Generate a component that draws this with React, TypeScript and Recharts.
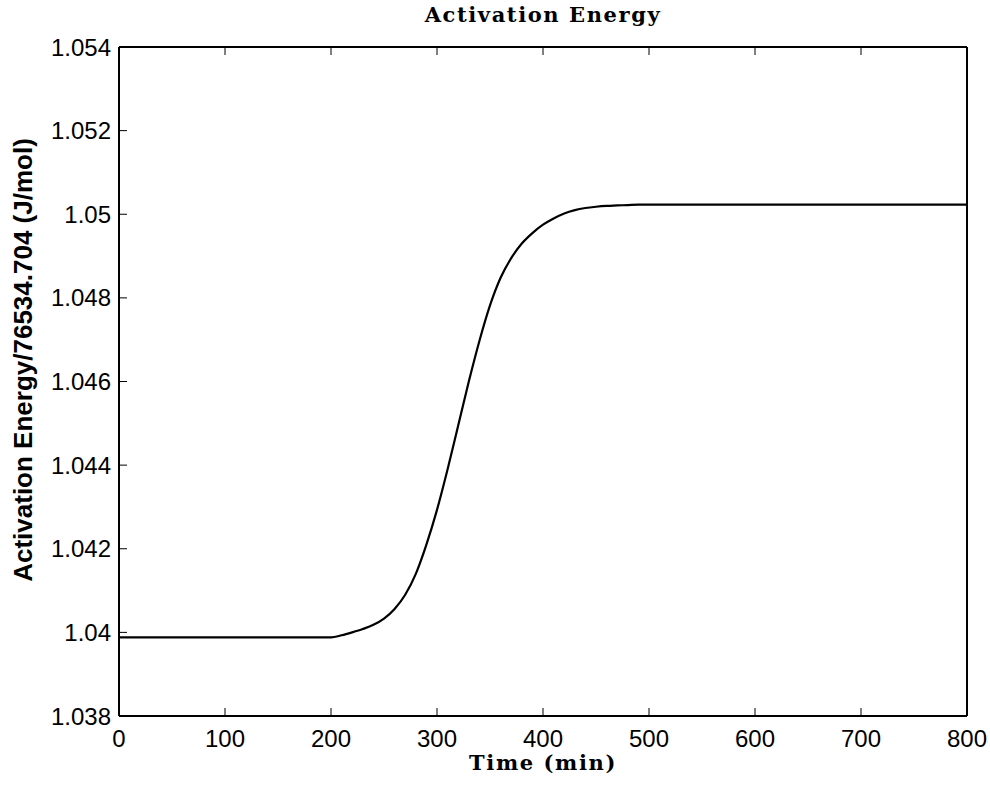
import { Label, Line, LineChart, XAxis, YAxis } from 'recharts';

// time (min)
const times = [
	0, 50, 100, 150, 200, 210, 220, 230, 240, 250, 260, 270, 280, 290, 300, 310,
	320, 330, 340, 350, 360, 370, 380, 390, 400, 410, 420, 430, 440, 450, 460,
	470, 480, 490, 500, 550, 600, 650, 700, 750, 800,
];

// activation energy / 76534.704 (J/mol)
const energy = [
	1.03988, 1.03988, 1.03988, 1.03988, 1.03988, 1.03993, 1.04, 1.04008, 1.04018,
	1.04033, 1.04056, 1.0409, 1.0414, 1.0421, 1.04293, 1.0439, 1.04495, 1.046,
	1.04697, 1.04782, 1.04848, 1.04895, 1.0493, 1.04955, 1.04975, 1.0499, 1.05002,
	1.0501, 1.05015, 1.05018, 1.0502, 1.05021, 1.05022, 1.05023, 1.05023,
	1.05023, 1.05023, 1.05023, 1.05023, 1.05023, 1.05023,
];

const xTicks = [0, 100, 200, 300, 400, 500, 600, 700, 800];
const yTicks = [1.038, 1.04, 1.042, 1.044, 1.046, 1.048, 1.05, 1.052, 1.054];

const data = times.map((t, i) => ({ time: t, energy: energy[i] }));

const TICK_LEN = 8;
const sansFont = 'Liberation Sans, Arial, sans-serif';
// the original uses a wide latex bold serif, so spread DejaVu a little
const serifBold = { fontFamily: 'DejaVu Serif, serif', fontWeight: 700, fill: '#000', letterSpacing: 1.6 };

// matlab-ish number labels: 1.04 not 1.040
const fmtY = (v: number) => String(Number(v.toFixed(3)));

// ticks point into the plot box, like the original figure
const BottomTick = ({ x, y, payload, margin }: any) => (
	<g>
		<line x1={x} x2={x} y1={y - margin} y2={y - margin - TICK_LEN} stroke='#000' strokeWidth={1} />
		<text x={x} y={y} dy='0.71em' textAnchor='middle' fontFamily={sansFont} fontSize={24} fill='#000'>
			{payload.value}
		</text>
	</g>
);

const LeftTick = ({ x, y, payload, margin }: any) => (
	<g>
		<line x1={x + margin} x2={x + margin + TICK_LEN} y1={y} y2={y} stroke='#000' strokeWidth={1} />
		<text x={x} y={y} dy='0.355em' textAnchor='end' fontFamily={sansFont} fontSize={24} fill='#000'>
			{fmtY(payload.value)}
		</text>
	</g>
);

const TopTick = ({ x, y }: any) => (
	<line x1={x} x2={x} y1={y} y2={y + TICK_LEN} stroke='#000' strokeWidth={1} />
);

const RightTick = ({ x, y }: any) => (
	<line x1={x} x2={x - TICK_LEN} y1={y} y2={y} stroke='#000' strokeWidth={1} />
);

export default function App() {
	return (
		<div style={{ position: 'absolute', left: 0, top: 0, background: '#fff' }}>
			<LineChart
				width={990}
				height={785}
				data={data}
				margin={{ top: 46, right: 22, left: 0, bottom: 0 }}
			>
				<XAxis
					xAxisId='bottom'
					dataKey='time'
					type='number'
					domain={[0, 800]}
					ticks={xTicks}
					height={69}
					tickSize={0}
					tickMargin={14}
					tickLine={false}
					tick={(p: any) => <BottomTick {...p} margin={14} />}
					axisLine={{ stroke: '#000', strokeWidth: 2 }}
				>
					<Label
						value='Time (min)'
						position='insideBottom'
						offset={15}
						style={{ ...serifBold, fontSize: 21 }}
					/>
				</XAxis>
				<XAxis
					xAxisId='top'
					orientation='top'
					dataKey='time'
					type='number'
					domain={[0, 800]}
					ticks={xTicks}
					height={1}
					tickSize={0}
					tickMargin={0}
					tickLine={false}
					tick={TopTick}
					axisLine={{ stroke: '#000', strokeWidth: 2 }}
				>
					<Label
						value='Activation Energy'
						position='top'
						offset={24}
						style={{ ...serifBold, fontSize: 21 }}
					/>
				</XAxis>
				<YAxis
					yAxisId='left'
					type='number'
					domain={[1.038, 1.054]}
					ticks={yTicks}
					width={119}
					tickSize={0}
					tickMargin={8}
					tickLine={false}
					tick={(p: any) => <LeftTick {...p} margin={8} />}
					axisLine={{ stroke: '#000', strokeWidth: 2 }}
					allowDataOverflow
				>
					<Label
						content={() => (
							<text
								x={32}
								y={360}
								transform='rotate(-90, 32, 360)'
								textAnchor='middle'
								fontFamily={sansFont}
								fontWeight={700}
								fontSize={26}
								fill='#000'
							>
								Activation Energy/76534.704 (J/mol)
							</text>
						)}
					/>
				</YAxis>
				<YAxis
					yAxisId='right'
					orientation='right'
					type='number'
					domain={[1.038, 1.054]}
					ticks={yTicks}
					width={1}
					tickSize={0}
					tickMargin={0}
					tickLine={false}
					tick={RightTick}
					axisLine={{ stroke: '#000', strokeWidth: 2 }}
				/>
				<Line
					xAxisId='bottom'
					yAxisId='left'
					type='monotone'
					dataKey='energy'
					stroke='#000'
					strokeWidth={2.2}
					dot={false}
					isAnimationActive={false}
				/>
			</LineChart>
		</div>
	);
}
